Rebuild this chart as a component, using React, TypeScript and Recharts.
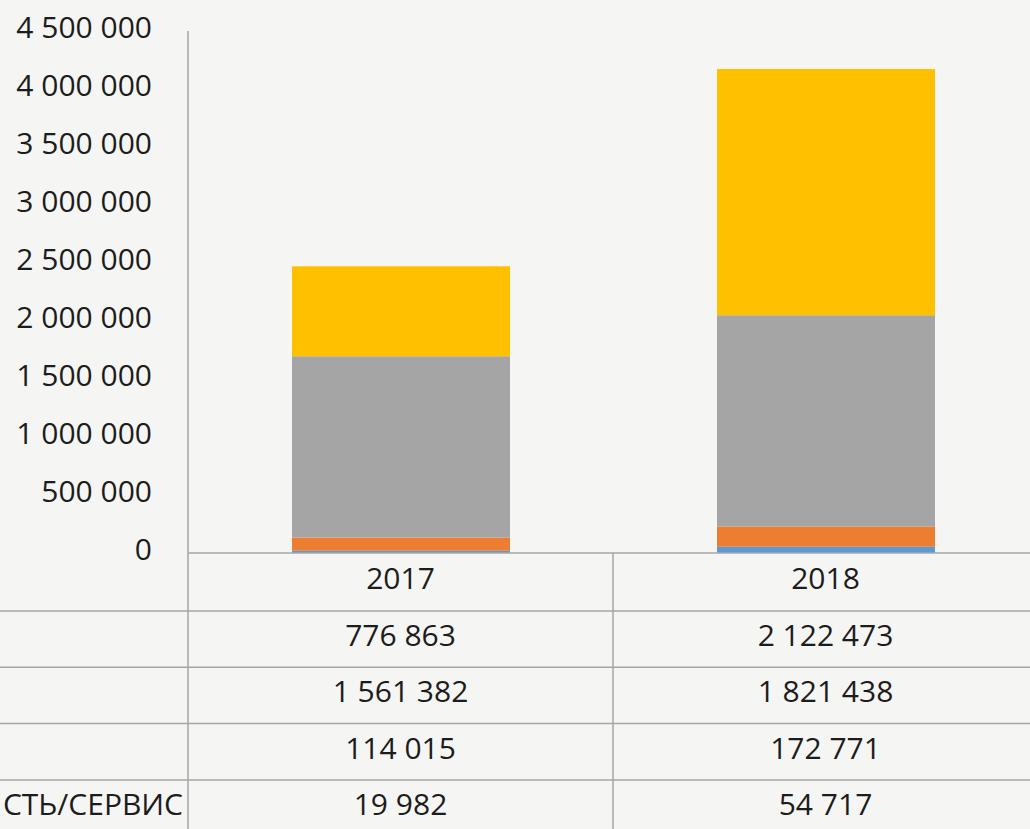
import { BarChart, Bar, XAxis, YAxis } from 'recharts';

const years = ['2017', '2018'];
const blueValues = [19982, 54717];
const orangeValues = [114015, 172771];
const grayValues = [1561382, 1821438];
const yellowValues = [776863, 2122473];
const yTicks = [0, 500000, 1000000, 1500000, 2000000, 2500000, 3000000, 3500000, 4000000, 4500000];
const lastRowLabel = 'СТЬ/СЕРВИС';

const data = years.map((year, i) => ({
  year,
  blue: blueValues[i],
  orange: orangeValues[i],
  gray: grayValues[i],
  yellow: yellowValues[i],
}));

// table rows, top to bottom (reverse of stack order)
const tableRows = [
  { label: '', values: yellowValues },
  { label: '', values: grayValues },
  { label: '', values: orangeValues },
  { label: lastRowLabel, values: blueValues },
];

const W = 1038;
const H = 829;
const TOP = 31;
const AXIS_W = 188;
const TABLE_H = 276;
const HEADER_H = 58;
const ROW_H = 56.3;
const BAND = (W - AXIS_W) / years.length;
const FONT = "'Open Sans', 'DejaVu Sans', sans-serif";
const FS = 30;
const TEXT = '#1c1c1c';
const LINE = '#a6a6a6';

function fmt(n: number): string {
  return String(n).replace(/\B(?=(\d{3})+(?!\d))/g, ' ');
}

function YTick(props: any) {
  const { x, y, payload } = props;
  return (
    <text x={x} y={y - 4} dy="0.36em" textAnchor="end" fill={TEXT} fontSize={FS} fontFamily={FONT}>
      {fmt(payload.value)}
    </text>
  );
}

function TableTick(props: any) {
  const { x, payload, index } = props;
  const top = H - TABLE_H;
  const left = x - BAND / 2;
  const right = x + BAND / 2;
  const bottom = H + 10;
  const rowY = (r: number) => top + HEADER_H + r * ROW_H;
  return (
    <g>
      <line x1={left} y1={top} x2={left} y2={bottom} stroke={LINE} strokeWidth={1.5} />
      {index === years.length - 1 && (
        <line x1={right} y1={top} x2={right} y2={bottom} stroke={LINE} strokeWidth={1.5} />
      )}
      {tableRows.map((row, r) => (
        <line key={'h' + r} x1={index === 0 ? -20 : left} y1={rowY(r)} x2={right} y2={rowY(r)} stroke={LINE} strokeWidth={1.5} />
      ))}
      <text x={x} y={top + HEADER_H / 2 - 4} dy="0.36em" textAnchor="middle" fill={TEXT} fontSize={FS} fontFamily={FONT}>
        {payload.value}
      </text>
      {tableRows.map((row, r) => (
        <text key={'v' + r} x={x} y={rowY(r) + ROW_H / 2 - 4} dy="0.36em" textAnchor="middle" fill={TEXT} fontSize={FS} fontFamily={FONT}>
          {fmt(row.values[index])}
        </text>
      ))}
      {index === 0 &&
        tableRows.map((row, r) =>
          row.label ? (
            <text key={'l' + r} x={AXIS_W - 5} y={rowY(r) + ROW_H / 2 - 4} dy="0.36em" textAnchor="end" fill={TEXT} fontSize={FS} fontFamily={FONT}>
              {row.label}
            </text>
          ) : null
        )}
    </g>
  );
}

export default function App() {
  return (
    <div style={{ position: 'absolute', left: 0, top: 0, width: 1030, height: H, overflow: 'hidden', background: '#f5f5f3' }}>
      <BarChart width={W} height={H} data={data} margin={{ top: TOP, right: 0, bottom: 0, left: 0 }} barSize={218}>
        <XAxis
          dataKey="year"
          height={TABLE_H}
          interval={0}
          tickLine={false}
          axisLine={{ stroke: LINE, strokeWidth: 1.5 }}
          tick={(p: any) => <TableTick {...p} />}
        />
        <YAxis
          width={AXIS_W}
          domain={[0, 4500000]}
          ticks={yTicks}
          interval={0}
          tickLine={false}
          tickSize={0}
          tickMargin={36}
          axisLine={{ stroke: LINE, strokeWidth: 1.5 }}
          tick={(p: any) => <YTick {...p} />}
        />
        <Bar dataKey="blue" stackId="a" fill="#5b9bd5" isAnimationActive={false} />
        <Bar dataKey="orange" stackId="a" fill="#ed7d31" isAnimationActive={false} />
        <Bar dataKey="gray" stackId="a" fill="#a5a5a5" isAnimationActive={false} />
        <Bar dataKey="yellow" stackId="a" fill="#ffc000" isAnimationActive={false} />
      </BarChart>
    </div>
  );
}
